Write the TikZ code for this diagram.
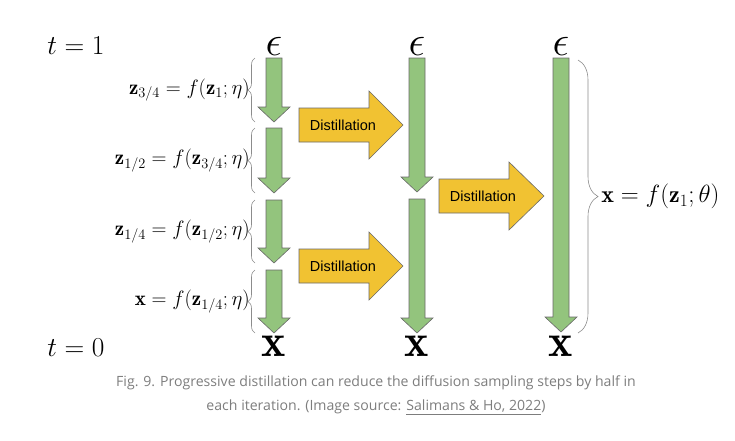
\documentclass[tikz,border=0pt]{standalone}
\usepackage{amsmath}
\usepackage{fontspec}
\newfontfamily\captionfont{Open Sans}
\newfontfamily\boxfont{Liberation Sans}
\usetikzlibrary{decorations.pathreplacing}
\definecolor{stepgreen}{RGB}{147,196,125}
\definecolor{distilyellow}{RGB}{241,194,50}
\definecolor{edgegrey}{RGB}{105,105,105}
\definecolor{bracegrey}{RGB}{140,140,140}
\definecolor{captiongrey}{RGB}{125,125,125}

\begin{document}
\begin{tikzpicture}[
    x=1pt,
    y=-1pt,
    sampler arrow/.style={
      fill=stepgreen,
      draw=edgegrey,
      line width=0.6pt,
      line join=miter
    },
    distil arrow/.style={
      fill=distilyellow,
      draw=edgegrey,
      line width=0.6pt
    },
    step brace/.style={
      decorate,
      decoration={brace,amplitude=7pt},
      bracegrey,
      line width=0.6pt
    },
    step label/.style={
      text=black,
      font=\fontsize{21}{24}\selectfont,
      inner sep=1pt
    },
    time label/.style={
      font=\Huge,
      scale=1.1
    },
    end symbol/.style={
      inner sep=0pt,
      font=\Huge
    }
]
\useasboundingbox (0,0) rectangle (735,440);

% Time axis labels.
\node[time label] (t1) at (76,46) {$t=1$};
\node[time label] (t0) at (76,348) {$t=0$};

% Noise and data symbols above and below every sampler column.
\foreach \x/\n in {274/1,417/2,561/3}{
  \node[end symbol,scale=1.69] (eps\n) at (\x,46) {$\epsilon$};
  \node[end symbol,scale=1.85] (data\n) at (\x,346) {$\mathbf{x}$};
}

% Sampling steps: centre, top and tip of each green arrow.
\foreach \x/\top/\tip in {
  274/58/122,
  274/128/193,
  274/200/263,
  274/270/333,
  417/58/192,
  417/199/333,
  561/58/332
}{
  \draw[sampler arrow]
    (\x-8,\top) -- (\x+8,\top) -- (\x+8,\tip-15) -- (\x+16,\tip-15)
    -- (\x,\tip) -- (\x-16,\tip-15) -- (\x-8,\tip-15) -- cycle;
}

% Distillation arrows: tail, centre line, start of head and tip.
\foreach \l/\c/\h/\t/\n in {
  299/125/369/403/1,
  299/266/369/403/2,
  439/196/509/544/3
}{
  \draw[distil arrow]
    (\l,\c-17) -- (\h,\c-17) -- (\h,\c-34) -- (\t,\c)
    -- (\h,\c+34) -- (\h,\c+17) -- (\l,\c+17) -- cycle;
  \node[font=\boxfont\fontsize{14.5}{16}\selectfont] (distil\n) at (\l+44,\c) {Distillation};
}

% Braces of the four teacher steps.
\foreach \top/\tip/\lab in {
  58/122/{\mathbf{z}_{3/4}=f(\mathbf{z}_1;\eta)},
  128/193/{\mathbf{z}_{1/2}=f(\mathbf{z}_{3/4};\eta)},
  200/263/{\mathbf{z}_{1/4}=f(\mathbf{z}_{1/2};\eta)},
  270/333/{\mathbf{x}=f(\mathbf{z}_{1/4};\eta)}
}{
  \coordinate (bt) at (255,\top);
  \coordinate (bb) at (255,\tip);
  \draw[step brace] (bb) -- (bt)
    node[midway,anchor=east,step label,xshift=-4pt] {$\lab$};
}

% Brace of the single student step.
\coordinate (st) at (578,60);
\coordinate (sb) at (578,333);
\draw[step brace,decoration={brace,amplitude=20pt}] (st) -- (sb)
  node[midway,anchor=west,step label,xshift=22pt,font=\fontsize{24}{28}\selectfont] (student) {$\mathbf{x}=f(\mathbf{z}_1;\theta)$};

% Caption.
\node[
  font=\captionfont\fontsize{14.1}{24}\selectfont,
  text=captiongrey,
  align=center
] (caption) at (376,395) {Fig. 9. Progressive distillation can reduce the diffusion sampling steps by half in\\
each iteration. (Image source: \underline{Salimans \& Ho, 2022})};

\end{tikzpicture}
\end{document}
